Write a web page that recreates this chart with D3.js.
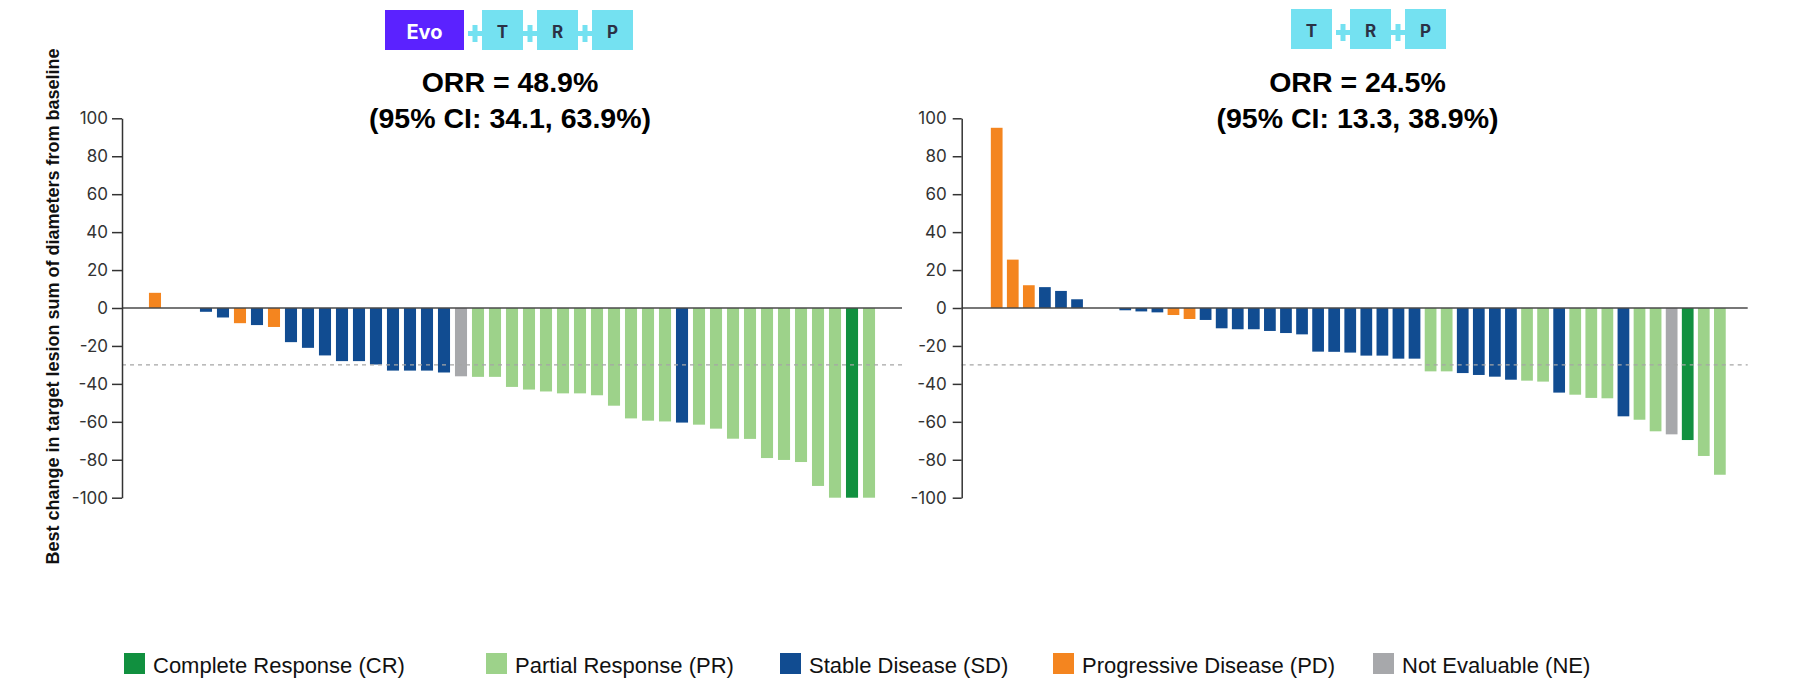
<!DOCTYPE html>
<html><head><meta charset="utf-8">
<script src="https://cdn.jsdelivr.net/npm/d3@7"></script>
<style>body{margin:0;background:#fff}</style>
</head><body>
<svg id="c" width="1801" height="696"></svg>
<script>
// ---------- data ----------
const yTicks = [-100, -80, -60, -40, -20, 0, 20, 40, 60, 80, 100];
const threshold = -30;
const responseCodes = ["CR", "PR", "SD", "PD", "NE"];
const responseLabels = ["Complete Response (CR)", "Partial Response (PR)", "Stable Disease (SD)", "Progressive Disease (PD)", "Not Evaluable (NE)"];
const responseColors = ["#11903F", "#9DD28A", "#114C91", "#F4851F", "#A7A8AB"];

const leftRegimen = ["Evo", "T", "R", "P"];
const rightRegimen = ["T", "R", "P"];
const leftTitle = ["ORR = 48.9%", "(95% CI: 34.1, 63.9%)"];
const rightTitle = ["ORR = 24.5%", "(95% CI: 13.3, 38.9%)"];
const yTitle = "Best change in target lesion sum of diameters from baseline";

const leftChange = [8, null, null, -2, -5, -8, -9, -10, -18, -21, -25, -28, -28, -29.8, -33, -33, -33, -34,
  -36, -36.3, -36.3, -41.6, -43, -44, -45, -45, -46, -51.5, -58.2, -59.4, -59.8, -60.4, -61.5, -63.6,
  -68.9, -69, -79.1, -80.1, -81.2, -93.8, -100, -100, -100];
const leftResponse = ["PD", null, null, "SD", "SD", "PD", "SD", "PD", "SD", "SD", "SD", "SD", "SD", "SD", "SD", "SD", "SD", "SD",
  "NE", "PR", "PR", "PR", "PR", "PR", "PR", "PR", "PR", "PR", "PR", "PR", "PR", "SD", "PR", "PR",
  "PR", "PR", "PR", "PR", "PR", "PR", "PR", "CR", "PR"];

const rightChange = [95, 25.5, 12, 11, 9, 4.6, null, null, -1.2, -1.8, -2.3, -3.7, -5.8, -6.3, -10.7, -11.2, -11.2,
  -12.1, -13.2, -13.9, -23, -23.1, -23.5, -25.1, -25.1, -26.7, -26.7, -33.4, -33.4, -34.3, -35.3, -36.2,
  -37.8, -38.3, -38.8, -44.6, -45.7, -47.4, -47.6, -57.1, -58.9, -65, -66.6, -69.6, -78, -87.9];
const rightResponse = ["PD", "PD", "PD", "SD", "SD", "SD", null, null, "SD", "SD", "SD", "PD", "PD", "SD", "SD", "SD", "SD",
  "SD", "SD", "SD", "SD", "SD", "SD", "SD", "SD", "SD", "SD", "PR", "PR", "SD", "SD", "SD",
  "SD", "PR", "PR", "SD", "PR", "PR", "PR", "SD", "PR", "PR", "NE", "CR", "PR", "PR"];

// ---------- layout ----------
const svg = d3.select("#c");
svg.append("rect").attr("width", 1801).attr("height", 696).attr("fill", "#fff");
const color = d3.scaleOrdinal().domain(responseCodes).range(responseColors);
const y = d3.scaleLinear().domain([-100, 100]).range([497.7, 118.3]);

const panels = [
  {change: leftChange, resp: leftResponse, regimen: leftRegimen, title: leftTitle,
   x0: 122, x1: 902, pi: 0.29, po: 1.585, align: 0.5, tickSize: 10, tickPad: 4,
   titleX: 510, badgeX: 385, badgeY: 10},
  {change: rightChange, resp: rightResponse, regimen: rightRegimen, title: rightTitle,
   x0: 961.7, x1: 1747.7, pi: 0.27, po: 1.59, align: 0.57, tickSize: 9, tickPad: 6,
   titleX: 1357.5, badgeX: 1291, badgeY: 9}
];

panels.forEach(p => {
  const g = svg.append("g");
  const x = d3.scaleBand().domain(d3.range(p.change.length))
    .range([p.x0, p.x1]).paddingInner(p.pi).paddingOuter(p.po).align(p.align);

  const data = p.change.map((v, i) => ({i, v, r: p.resp[i]})).filter(d => d.v !== null);
  g.selectAll("rect.bar").data(data).join("rect")
    .attr("class", "bar")
    .attr("x", d => x(d.i))
    .attr("width", x.bandwidth())
    .attr("y", d => Math.min(y(d.v), y(0)))
    .attr("height", d => Math.abs(y(d.v) - y(0)))
    .attr("fill", d => color(d.r));

  // threshold line
  g.append("line").attr("x1", p.x0).attr("x2", p.x1)
    .attr("y1", y(threshold)).attr("y2", y(threshold))
    .attr("stroke", "#a5a5a5").attr("stroke-width", 1.3).attr("stroke-dasharray", "4,4");
  // zero line
  g.append("line").attr("x1", p.x0).attr("x2", p.x1)
    .attr("y1", y(0)).attr("y2", y(0))
    .attr("stroke", "#4a4a4a").attr("stroke-width", 1.5);

  // y axis
  const ax = g.append("g").attr("transform", `translate(${p.x0},0)`)
    .call(d3.axisLeft(y).tickValues(yTicks).tickFormat(d => String(d))
      .tickSize(p.tickSize).tickSizeOuter(0).tickPadding(p.tickPad));
  ax.select(".domain").attr("stroke", "#333").attr("stroke-width", 1.5);
  ax.selectAll(".tick line").attr("stroke", "#333").attr("stroke-width", 1.5);
  ax.selectAll(".tick text").attr("fill", "#333")
    .style("font-family", "Inter, 'Open Sans', sans-serif").style("font-size", "17px");

  // title lines
  g.selectAll("text.ttl").data(p.title).join("text")
    .attr("class", "ttl")
    .attr("x", p.titleX).attr("y", (d, i) => 92.3 + i * 36)
    .attr("text-anchor", "middle")
    .style("font-family", "'Liberation Sans', Arial, sans-serif")
    .style("font-weight", "bold").style("font-size", "28.5px").attr("fill", "#000")
    .text(d => d);

  // regimen badges
  let bx = p.badgeX;
  p.regimen.forEach((name, k) => {
    const w = name === "Evo" ? 79 : 41;
    if (k > 0) {
      const gap = 14;
      const cx = bx - gap / 2;
      g.append("rect").attr("x", bx - gap).attr("y", p.badgeY + 21).attr("width", gap).attr("height", 5).attr("fill", "#74E1F1");
      g.append("rect").attr("x", cx - 2.5).attr("y", p.badgeY + 15).attr("width", 5).attr("height", 17).attr("fill", "#74E1F1");
    }
    const evo = name === "Evo";
    g.append("rect").attr("x", bx).attr("y", p.badgeY).attr("width", w).attr("height", 40)
      .attr("fill", evo ? "#5B22FF" : "#74E1F1");
    g.append("text").attr("x", bx + w / 2).attr("y", p.badgeY + (evo ? 28.5 : 28))
      .attr("text-anchor", "middle")
      .style("font-family", "Inter, 'Open Sans', sans-serif").style("font-weight", 700)
      .style("font-size", evo ? "20px" : "17px")
      .attr("fill", evo ? "#fff" : "#2B3146").text(name);
    bx += w + (k === 0 ? 18 : 14);
  });
});

// y-axis title
svg.append("text")
  .attr("transform", "translate(59,306.5) rotate(-90)")
  .attr("text-anchor", "middle")
  .style("font-family", "'Liberation Sans', Arial, sans-serif")
  .style("font-weight", "bold").style("font-size", "18px").attr("fill", "#111")
  .text(yTitle);

// legend
const legendX = [124, 486, 780, 1053, 1373];
const lg = svg.append("g");
responseCodes.forEach((c, i) => {
  lg.append("rect").attr("x", legendX[i]).attr("y", 653).attr("width", 21).attr("height", 21).attr("fill", color(c));
  lg.append("text").attr("x", legendX[i] + 29).attr("y", 673)
    .style("font-family", "'Liberation Sans', Arial, sans-serif").style("font-size", "22px").attr("fill", "#111")
    .text(responseLabels[i]);
});
</script>
</body></html>
